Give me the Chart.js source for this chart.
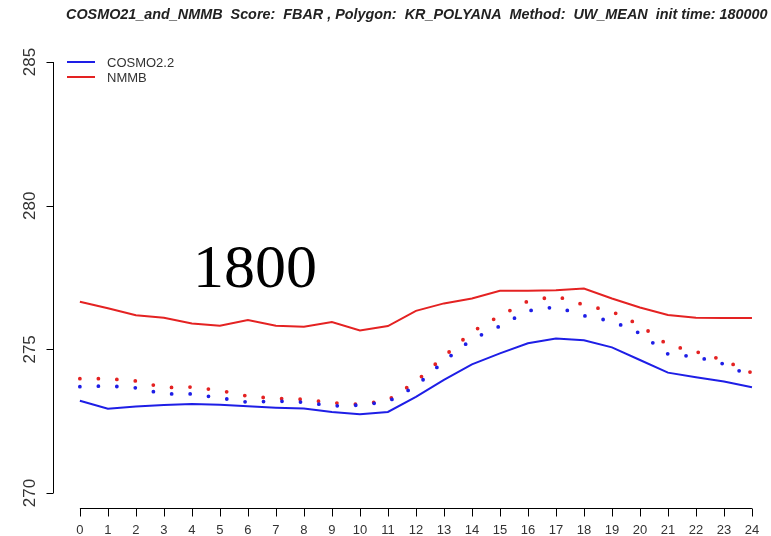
<!DOCTYPE html>
<html>
<head>
<meta charset="utf-8">
<script src="https://cdn.jsdelivr.net/npm/chart.js@4"></script>
<style>
  html, body { margin:0; padding:0; background:#fff; }
  #wrap { width:771px; height:536px; }
</style>
</head>
<body>
<div id="wrap"><canvas id="grafico" width="771" height="536"></canvas></div>
<script>
// horas (eixo x) e ticks
const horas = [0,1,2,3,4,5,6,7,8,9,10,11,12,13,14,15,16,17,18,19,20,21,22,23,24];
const yTicks = [270,275,280,285];

// linhas cheias
const cosmo = [273.21,272.93,273.01,273.06,273.10,273.07,273.02,272.97,272.94,272.82,272.74,272.82,
  273.35,273.94,274.48,274.86,275.21,275.38,275.32,275.07,274.63,274.19,274.03,273.88,273.68];
const nmmb = [276.66,276.43,276.19,276.10,275.90,275.82,276.02,275.82,275.79,275.95,275.66,275.81,
  276.34,276.60,276.77,277.04,277.04,277.06,277.12,276.77,276.46,276.20,276.10,276.09,276.09];

// linhas pontilhadas
const cosmoPont = [273.70,273.73,273.66,273.45,273.45,273.31,273.16,273.20,273.16,273.03,273.06,273.18,
  273.72,274.59,275.35,275.81,276.34,276.48,276.17,275.98,275.56,274.84,274.74,274.49,274.05];
const nmmbPont = [273.98,273.98,273.90,273.67,273.69,273.57,273.37,273.29,273.26,273.14,273.08,273.23,
  273.88,274.75,275.61,276.17,276.68,276.85,276.55,276.32,275.84,275.15,274.92,274.62,274.18];

const titulo = "COSMO21_and_NMMB  Score:  FBAR , Polygon:  KR_POLYANA  Method:  UW_MEAN  init time: 180000";
const marca = "1800";

const AZUL = '#1e1ee6';
const VERM = '#e42222';

function pontos(arr){ return horas.map((h,i)=>({x:h, y:arr[i]})); }

const eixosR = {
  id:'eixosR',
  afterDraw(chart){
    const ctx = chart.ctx, xs = chart.scales.x, ys = chart.scales.y, area = chart.chartArea;
    ctx.save();
    ctx.strokeStyle = '#000';
    ctx.lineWidth = 1;

    // eixo y
    const yx = Math.round(area.left) + 0.5;
    ctx.beginPath();
    ctx.moveTo(yx, ys.getPixelForValue(yTicks[0]));
    ctx.lineTo(yx, ys.getPixelForValue(yTicks[yTicks.length-1]));
    yTicks.forEach(v=>{
      const p = Math.round(ys.getPixelForValue(v)) + 0.5;
      ctx.moveTo(yx, p); ctx.lineTo(yx-7, p);
    });
    // eixo x
    const xy = Math.round(area.bottom) + 0.5;
    ctx.moveTo(xs.getPixelForValue(horas[0]), xy);
    ctx.lineTo(xs.getPixelForValue(horas[horas.length-1]), xy);
    horas.forEach(h=>{
      const p = Math.round(xs.getPixelForValue(h)) + 0.5;
      ctx.moveTo(p, xy); ctx.lineTo(p, xy+8);
    });
    ctx.stroke();

    // rotulos y (girados)
    ctx.fillStyle = '#333';
    ctx.font = '17px "Liberation Sans", Arial, sans-serif';
    ctx.textAlign = 'center';
    ctx.textBaseline = 'middle';
    yTicks.forEach(v=>{
      ctx.save();
      ctx.translate(30, ys.getPixelForValue(v));
      ctx.rotate(-Math.PI/2);
      ctx.fillText(String(v), 0, 0);
      ctx.restore();
    });
    // rotulos x
    ctx.font = '13px "Liberation Sans", Arial, sans-serif';
    horas.forEach(h=>{
      ctx.fillText(String(h), xs.getPixelForValue(h), xy + 22);
    });

    // legenda
    ctx.font = '13px "Liberation Sans", Arial, sans-serif';
    ctx.textAlign = 'left';
    chart.data.datasets.filter(d=>d.naLegenda).forEach((d,i)=>{
      const ly = 62 + i*15;
      ctx.strokeStyle = d.borderColor;
      ctx.lineWidth = 2;
      ctx.beginPath(); ctx.moveTo(67, ly); ctx.lineTo(95, ly); ctx.stroke();
      ctx.fillStyle = '#333';
      ctx.fillText(d.label, 107, ly + 1);
    });

    // titulo (ajusta o tamanho para ocupar a largura do original)
    ctx.fillStyle = '#222';
    ctx.font = 'italic bold 12px "Liberation Sans", Arial, sans-serif';
    const w12 = ctx.measureText(titulo).width;
    const tam = 12 * 702 / w12;
    ctx.font = 'italic bold ' + tam.toFixed(2) + 'px "Liberation Sans", Arial, sans-serif';
    ctx.textAlign = 'left';
    ctx.fillText(titulo, 66, 15);

    // marca grande
    ctx.fillStyle = '#000';
    ctx.font = '62px "Liberation Serif", "Times New Roman", serif';
    ctx.textBaseline = 'alphabetic';
    ctx.fillText(marca, 193, 287);
    ctx.restore();
  }
};

new Chart(document.getElementById('grafico'), {
  type:'line',
  data:{
    datasets:[
      {label:'COSMO2.2', naLegenda:true, data:pontos(cosmo), borderColor:AZUL, borderWidth:2},
      {label:'NMMB', naLegenda:true, data:pontos(nmmb), borderColor:VERM, borderWidth:2},
      {label:'COSMO2.2 pont', data:pontos(cosmoPont), borderColor:AZUL, borderWidth:3.8,
        borderDash:[0,18.5], borderCapStyle:'round'},
      {label:'NMMB pont', data:pontos(nmmbPont), borderColor:VERM, borderWidth:3.8,
        borderDash:[0,18.5], borderCapStyle:'round'}
    ]
  },
  options:{
    responsive:false,
    animation:false,
    layout:{padding:{left:53, right:0, top:46, bottom:28}},
    elements:{point:{radius:0}, line:{tension:0, fill:false}},
    plugins:{legend:{display:false}, tooltip:{enabled:false}},
    scales:{
      x:{type:'linear', display:false, min:-0.96, max:24.68},
      y:{type:'linear', display:false, min:269.478, max:285.56}
    }
  },
  plugins:[eixosR]
});
</script>
</body>
</html>
